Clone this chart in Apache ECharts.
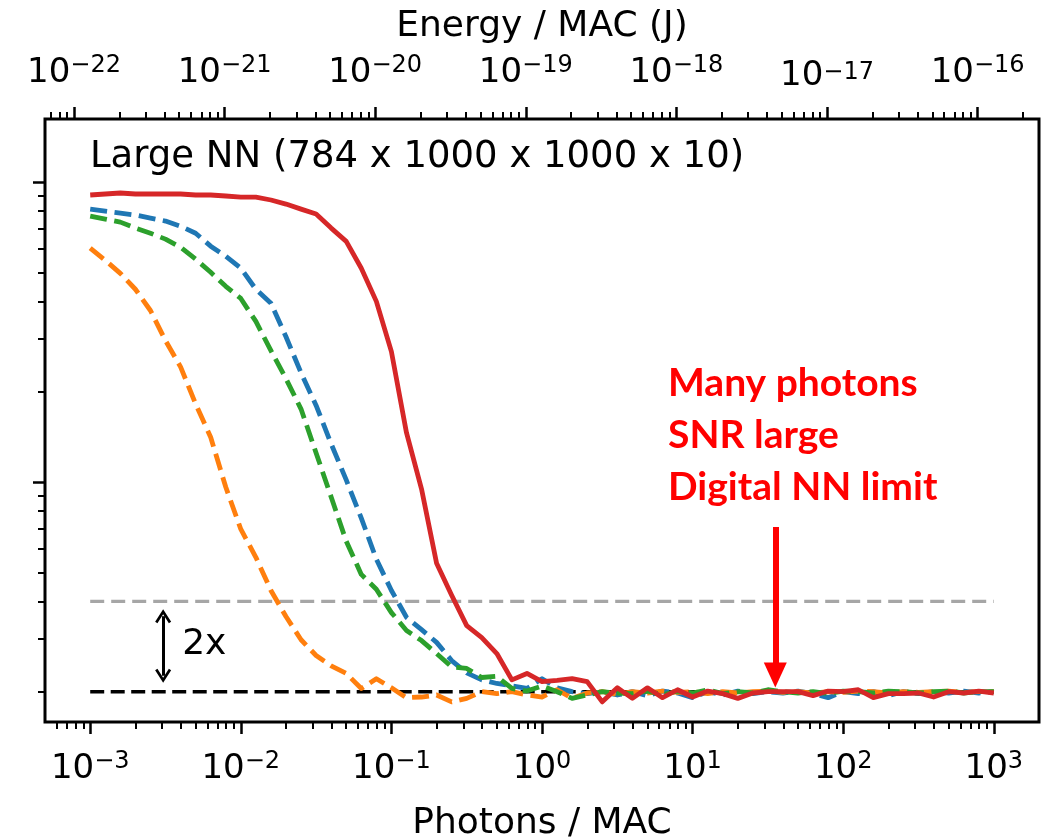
<!DOCTYPE html>
<html>
<head>
<meta charset="utf-8">
<script src="https://cdn.jsdelivr.net/npm/echarts@6/dist/echarts.min.js"></script>
<style>
  html, body { margin: 0; padding: 0; background: #fff; }
  #chart { width: 1048px; height: 838px; }
</style>
</head>
<body>
<div id="chart"></div>
<script>
// Photon budget per multiply-accumulate (log-spaced sweep, 10 points per decade)
const photons = [
  0.001, 0.001259, 0.001585, 0.001995, 0.002512, 0.003162, 0.003981, 0.005012, 0.00631, 0.007943,
  0.01, 0.01259, 0.01585, 0.01995, 0.02512, 0.03162, 0.03981, 0.05012, 0.0631, 0.07943,
  0.1, 0.1259, 0.1585, 0.1995, 0.2512, 0.3162, 0.3981, 0.5012, 0.631, 0.7943,
  1, 1.259, 1.585, 1.995, 2.512, 3.162, 3.981, 5.012, 6.31, 7.943,
  10, 12.59, 15.85, 19.95, 25.12, 31.62, 39.81, 50.12, 63.1, 79.43,
  100, 125.9, 158.5, 199.5, 251.2, 316.2, 398.1, 501.2, 631, 794.3,
  1000
];

// Test error rates
const blueErr = [
  0.812, 0.800, 0.788, 0.776, 0.758, 0.741, 0.712, 0.675, 0.611, 0.566,
  0.516, 0.439, 0.394, 0.305, 0.231, 0.180, 0.134, 0.1016, 0.0758, 0.0553,
  0.0435, 0.0354, 0.0322, 0.0292, 0.0254, 0.0231, 0.0219, 0.0213, 0.0209, 0.0205,
  0.0221, 0.0206, 0.0200, 0.0197, 0.0200, 0.0195, 0.0200, 0.0194, 0.0201, 0.0198,
  0.0191, 0.0200, 0.0195, 0.0201, 0.0197, 0.0200, 0.0198, 0.0201, 0.0197, 0.0191,
  0.0200, 0.0197, 0.0200, 0.0194, 0.0200, 0.0197, 0.0200, 0.0198, 0.0201, 0.0198,
  0.0200
];
const orangeErr = [
  0.602, 0.548, 0.496, 0.439, 0.373, 0.296, 0.242, 0.182, 0.141, 0.0962,
  0.0696, 0.0561, 0.0435, 0.0356, 0.0298, 0.0264, 0.0244, 0.0230, 0.0205, 0.0221,
  0.0206, 0.0191, 0.0192, 0.0195, 0.0185, 0.0190, 0.0200, 0.0197, 0.0200, 0.0195,
  0.0192, 0.0203, 0.0190, 0.0198, 0.0200, 0.0196, 0.0200, 0.0198, 0.0201, 0.0199,
  0.0200, 0.0197, 0.0200, 0.0198, 0.0200, 0.0201, 0.0199, 0.0200, 0.0198, 0.0200,
  0.0199, 0.0201, 0.0200, 0.0198, 0.0200, 0.0199, 0.0200, 0.0201, 0.0199, 0.0200,
  0.0200
];
const greenErr = [
  0.770, 0.752, 0.735, 0.702, 0.675, 0.645, 0.606, 0.553, 0.500, 0.449,
  0.409, 0.343, 0.274, 0.221, 0.175, 0.125, 0.0891, 0.0635, 0.0492, 0.0439,
  0.0367, 0.0320, 0.0296, 0.0268, 0.0242, 0.0239, 0.0223, 0.0225, 0.0205, 0.0201,
  0.0209, 0.0200, 0.0190, 0.0195, 0.0200, 0.0198, 0.0197, 0.0201, 0.0195, 0.0201,
  0.0198, 0.0203, 0.0197, 0.0200, 0.0198, 0.0203, 0.0200, 0.0198, 0.0200, 0.0197,
  0.0201, 0.0200, 0.0198, 0.0201, 0.0200, 0.0198, 0.0200, 0.0201, 0.0198, 0.0200,
  0.0200
];
const redErr = [
  0.905, 0.912, 0.919, 0.912, 0.912, 0.912, 0.912, 0.905, 0.905, 0.898,
  0.891, 0.891, 0.871, 0.844, 0.812, 0.782, 0.702, 0.634, 0.516, 0.400,
  0.272, 0.146, 0.0947, 0.0536, 0.0419, 0.0332, 0.0303, 0.0268, 0.0219, 0.0230,
  0.0216, 0.0218, 0.0221, 0.0216, 0.0185, 0.0206, 0.0190, 0.0206, 0.0191, 0.0203,
  0.0192, 0.0201, 0.0197, 0.0190, 0.0198, 0.0200, 0.0200, 0.0200, 0.0194, 0.0201,
  0.0200, 0.0203, 0.0191, 0.0197, 0.0197, 0.0198, 0.0192, 0.0200, 0.0198, 0.0201,
  0.0198
];

// Reference levels: digital network error and twice that
const digitalLimit = 0.02;
const doubleLimit = 0.04;

// Axis ranges and tick positions
const PHOTON_ENERGY = 1.2816e-19;          // J per photon (1550 nm)
const xRange = [0.000501, 1995];           // 10^-3.3 .. 10^3.3 photons
const yRange = [0.015849, 1.6218];         // 10^-1.8 .. 10^0.21
const xMajorTicks = [1e-3, 1e-2, 1e-1, 1, 10, 100, 1000];
const energyMajorTicks = [1e-22, 1e-21, 1e-20, 1e-19, 1e-18, 1e-17, 1e-16];
const yMajorTicks = [0.1, 1];

// Annotation anchors (data coordinates)
const arrowX = 35.4, arrowFrom = 0.0708, arrowTo = 0.02275;
const twoX = 0.00305, twoLow = 0.0226, twoHigh = 0.0357;
const twoLabel = [0.00572, 0.02861];

const FONT = "'DejaVu Sans', sans-serif";

function minorTicks(lo, hi) {
  const out = [];
  for (let n = Math.floor(Math.log10(lo)); n <= Math.ceil(Math.log10(hi)); n++) {
    for (let k = 2; k <= 9; k++) {
      const v = k * Math.pow(10, n);
      if (v >= lo && v <= hi) out.push(v);
    }
  }
  return out;
}

// 10^n tick label; the 10^-17 label sits a little lower, as mathtext set it
function expLabel(v) {
  const e = Math.round(Math.log10(v));
  const low = e === -17;
  return '{' + (low ? 'bl' : 'b') + '|10}{' + (low ? 'sl' : 's') + '|' + (e < 0 ? '\u2212' : '') + Math.abs(e) + '}';
}

const labelRich = {
  b: { fontFamily: FONT, fontSize: 34, color: '#000', lineHeight: 38 },
  s: { fontFamily: FONT, fontSize: 24, color: '#000', lineHeight: 22, verticalAlign: 'top' },
  bl: { fontFamily: FONT, fontSize: 34, color: '#000', lineHeight: 31 },
  sl: { fontFamily: FONT, fontSize: 24, color: '#000', lineHeight: 24, verticalAlign: 'top' }
};

function logAxis(opts) {
  return Object.assign({
    type: 'log', logBase: 10, gridIndex: 0,
    axisLine: { show: false },
    splitLine: { show: false },
    minorTick: { show: false },
    minorSplitLine: { show: false },
    axisPointer: { show: false },
    silent: true
  }, opts);
}

const majorTickStyle = { color: '#000', width: 2.5 };
const minorTickStyle = { color: '#000', width: 2 };

const xMin = xRange[0], xMax = xRange[1];
const eMin = xMin * PHOTON_ENERGY, eMax = xMax * PHOTON_ENERGY;

function curve(data, color, dashed) {
  return {
    type: 'line',
    data: photons.map((x, i) => [x, data[i]]),
    xAxisIndex: 0, yAxisIndex: 0,
    symbol: 'none', showSymbol: false,
    animation: false, silent: true,
    lineStyle: { color: color, width: 4.8, type: dashed ? [17, 7.5] : 'solid', cap: 'butt', join: 'round' },
    emphasis: { disabled: true }
  };
}

function refLine(level, color, dash) {
  return {
    type: 'line',
    data: [[photons[0], level], [photons[photons.length - 1], level]],
    xAxisIndex: 0, yAxisIndex: 0,
    symbol: 'none', showSymbol: false,
    animation: false, silent: true,
    lineStyle: { color: color, width: 3.4, type: dash, cap: 'butt' },
    emphasis: { disabled: true }
  };
}

const chevron = 'path://M0,12 L7,0 L14,12 L12,13.4 L7,4.8 L2,13.4 Z';

const redSeries = curve(redErr, '#d62728', false);
redSeries.markLine = {
  silent: true, animation: false, precision: 10,
  symbol: ['none', 'none'],
  label: { show: false },
  emphasis: { disabled: true },
  data: [
    [
      { coord: [arrowX, arrowFrom], symbol: 'none', lineStyle: { color: '#ff0000', width: 6, type: 'solid' } },
      { coord: [arrowX, arrowTo], symbol: 'triangle', symbolSize: [23, 25] }
    ],
    [
      { coord: [twoX, twoLow], symbol: chevron, symbolSize: [16, 14], lineStyle: { color: '#000', width: 3, type: 'solid' } },
      { coord: [twoX, twoHigh], symbol: chevron, symbolSize: [16, 14] }
    ]
  ]
};
redSeries.markPoint = {
  silent: true, animation: false,
  symbol: 'circle', symbolSize: 1,
  itemStyle: { color: 'rgba(0,0,0,0)' },
  label: { show: true, position: 'inside', formatter: '2x', fontFamily: FONT, fontSize: 36, color: '#000' },
  data: [{ coord: twoLabel }]
};

const option = {
  animation: false,
  backgroundColor: '#fff',
  grid: {
    left: 45, right: 9, top: 119, bottom: 116,
    outerBoundsMode: 'none', containLabel: false,
    show: true, borderColor: '#000', borderWidth: 3, backgroundColor: 'rgba(0,0,0,0)'
  },
  xAxis: [
    logAxis({
      position: 'bottom', min: xMin, max: xMax,
      name: 'Photons / MAC', nameLocation: 'middle', nameGap: 84,
      nameTextStyle: { fontFamily: FONT, fontSize: 36, color: '#000' },
      axisTick: { show: true, inside: false, length: 12, lineStyle: majorTickStyle, customValues: xMajorTicks },
      axisLabel: { show: true, margin: 28, customValues: xMajorTicks, formatter: expLabel, rich: labelRich }
    }),
    logAxis({
      position: 'bottom', min: xMin, max: xMax,
      axisTick: { show: true, inside: false, length: 7, lineStyle: minorTickStyle, customValues: minorTicks(xMin, xMax) },
      axisLabel: { show: false }
    }),
    logAxis({
      position: 'top', min: eMin, max: eMax,
      name: 'Energy / MAC (J)', nameLocation: 'middle', nameGap: 74,
      nameTextStyle: { fontFamily: FONT, fontSize: 36, color: '#000' },
      axisTick: { show: true, inside: false, length: 12, lineStyle: majorTickStyle, customValues: energyMajorTicks },
      axisLabel: { show: true, margin: 27, customValues: energyMajorTicks, formatter: expLabel, rich: labelRich }
    }),
    logAxis({
      position: 'top', min: eMin, max: eMax,
      axisTick: { show: true, inside: false, length: 7, lineStyle: minorTickStyle, customValues: minorTicks(eMin, eMax) },
      axisLabel: { show: false }
    })
  ],
  yAxis: [
    logAxis({
      position: 'left', min: yRange[0], max: yRange[1],
      axisTick: { show: true, inside: false, length: 12, lineStyle: majorTickStyle, customValues: yMajorTicks },
      axisLabel: { show: false }
    }),
    logAxis({
      position: 'left', min: yRange[0], max: yRange[1],
      axisTick: { show: true, inside: false, length: 7, lineStyle: minorTickStyle, customValues: minorTicks(yRange[0], yRange[1]) },
      axisLabel: { show: false }
    })
  ],
  graphic: [
    {
      type: 'text', x: 90, y: 157, silent: true,
      style: {
        text: 'Large NN (784 x 1000 x 1000 x 10)',
        fontFamily: FONT, fontSize: 37, fill: '#000',
        align: 'left', verticalAlign: 'middle'
      }
    },
    {
      type: 'text', x: 668, y: 357, silent: true,
      style: {
        text: 'Many photons\nSNR large\nDigital NN limit',
        fontFamily: 'Lato, sans-serif', fontWeight: 'bold', fontSize: 39, lineHeight: 52,
        fill: '#ff0000', align: 'left', verticalAlign: 'top'
      }
    }
  ],
  series: [
    refLine(doubleLimit, '#a6a6a6', [14, 7]),
    refLine(digitalLimit, '#000000', [14, 6.5]),
    curve(blueErr, '#1f77b4', true),
    curve(orangeErr, '#ff7f0e', true),
    curve(greenErr, '#2ca02c', true),
    redSeries
  ]
};

const chart = echarts.init(document.getElementById('chart'), null, { renderer: 'canvas' });
chart.setOption(option);
</script>
</body>
</html>
